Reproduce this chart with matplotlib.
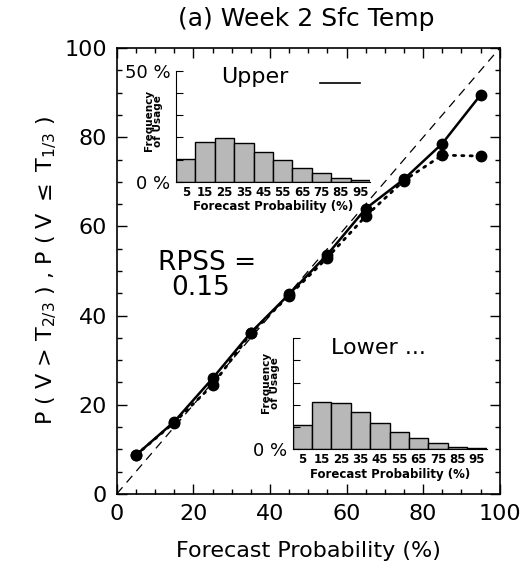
import numpy as np
import matplotlib
matplotlib.use('Agg')
from matplotlib import pyplot as plt
from matplotlib.ticker import MultipleLocator

plt.rcParams['font.family'] = ['DejaVu Sans']

# forecast probability bins (%)
prob = [5, 15, 25, 35, 45, 55, 65, 75, 85, 95]
prob_labels = ['5', '15', '25', '35', '45', '55', '65', '75', '85', '95']
# observed relative frequency (%)
upper_obs = [8.7, 16.2, 25.9, 36.2, 44.8, 53.7, 64.0, 70.6, 78.6, 89.5]
lower_obs = [8.7, 16.0, 24.4, 36.0, 44.5, 53.0, 62.3, 70.3, 76.0, 75.8]
# frequency of usage (%)
upper_freq = [10.1, 18.0, 19.8, 17.3, 13.5, 9.8, 6.3, 3.8, 1.8, 0.6]
lower_freq = [11.0, 21.5, 21.0, 17.0, 12.0, 8.0, 5.0, 2.7, 1.2, 0.5]
rpss = 0.15

fig = plt.figure(figsize=(5.31, 5.67), dpi=100)
ax = fig.add_axes([0.220, 0.129, 0.721, 0.786])

ax.plot([0, 100], [0, 100], color='k', lw=0.9, dashes=(7, 5))
ax.plot(prob, upper_obs, color='k', ls='-', lw=1.8, marker='o', ms=7.5)
ax.plot(prob, lower_obs, color='k', lw=2.0, dashes=(0.8, 2.2),
        dash_capstyle='round', marker='o', ms=7.5)

ax.set_xlim(0, 100)
ax.set_ylim(0, 100)
ax.xaxis.set_major_locator(MultipleLocator(20))
ax.yaxis.set_major_locator(MultipleLocator(20))
ax.xaxis.set_minor_locator(MultipleLocator(5))
ax.yaxis.set_minor_locator(MultipleLocator(5))
ax.tick_params(which='both', direction='in', top=True, right=True, width=1)
ax.tick_params(which='major', length=7, labelsize=16, pad=7)
ax.tick_params(which='minor', length=3.5)
for s in ax.spines.values():
    s.set_linewidth(1.2)

ax.set_xlabel('Forecast Probability (%)', fontsize=16)
ax.xaxis.set_label_coords(0.5, -0.105)
ax.set_ylabel(r'P ( V > T$_{2/3}$ ) , P ( V $\leq$ T$_{1/3}$ )', fontsize=16)
ax.yaxis.set_label_coords(-0.15, 0.5)

fig.text(0.576, 0.966, '(a) Week 2 Sfc Temp', fontsize=18, ha='center', va='center')

# annotations
ax.text(27.3, 93.5, 'Upper', fontsize=16, ha='left', va='center')
ax.plot([53, 63.4], [92.2, 92.2], color='k', lw=1.2)
ax.text(56, 32.7, 'Lower ...', fontsize=16, ha='left', va='center')
ax.text(23.5, 51.8, 'RPSS =', fontsize=19, ha='center', va='center')
ax.text(22, 46.2, '%.2f' % rpss, fontsize=19, ha='center', va='center')


def inset(rect, freq, ylabels, ylab_pos):
    ia = fig.add_axes(rect)
    ia.patch.set_alpha(0)
    ia.bar(prob, freq, width=10, color='#b8b8b8', edgecolor='k', lw=1)
    ia.set_xlim(0, 100)
    ia.set_ylim(0, 50)
    ia.spines['top'].set_visible(False)
    ia.spines['right'].set_visible(False)
    ia.set_yticks([0, 10, 20, 30, 40, 50])
    ia.set_yticklabels(ylabels)
    ia.tick_params(axis='y', direction='in', length=5, labelsize=13, pad=4)
    ia.set_xticks(prob)
    ia.set_xticklabels(prob_labels)
    ia.tick_params(axis='x', length=0, labelsize=8.5, pad=3)
    for lab in ia.get_xticklabels():
        lab.set_fontweight('bold')
    ia.set_xlabel('Forecast Probability (%)', fontsize=8.5, fontweight='bold', labelpad=1)
    ia.set_ylabel('Frequency\nof Usage', fontsize=7.5, fontweight='bold', linespacing=0.9)
    ia.yaxis.set_label_coords(ylab_pos[0], ylab_pos[1])
    return ia


inset([0.3315, 0.6795, 0.3653, 0.1958], upper_freq,
      ['0 %', '', '', '', '', '50 %'], (-0.065, 0.55))
inset([0.5512, 0.2076, 0.3653, 0.1958], lower_freq,
      ['0 %', '', '', '', '', ''], (-0.065, 0.6))

plt.savefig('out.png', dpi=100)
